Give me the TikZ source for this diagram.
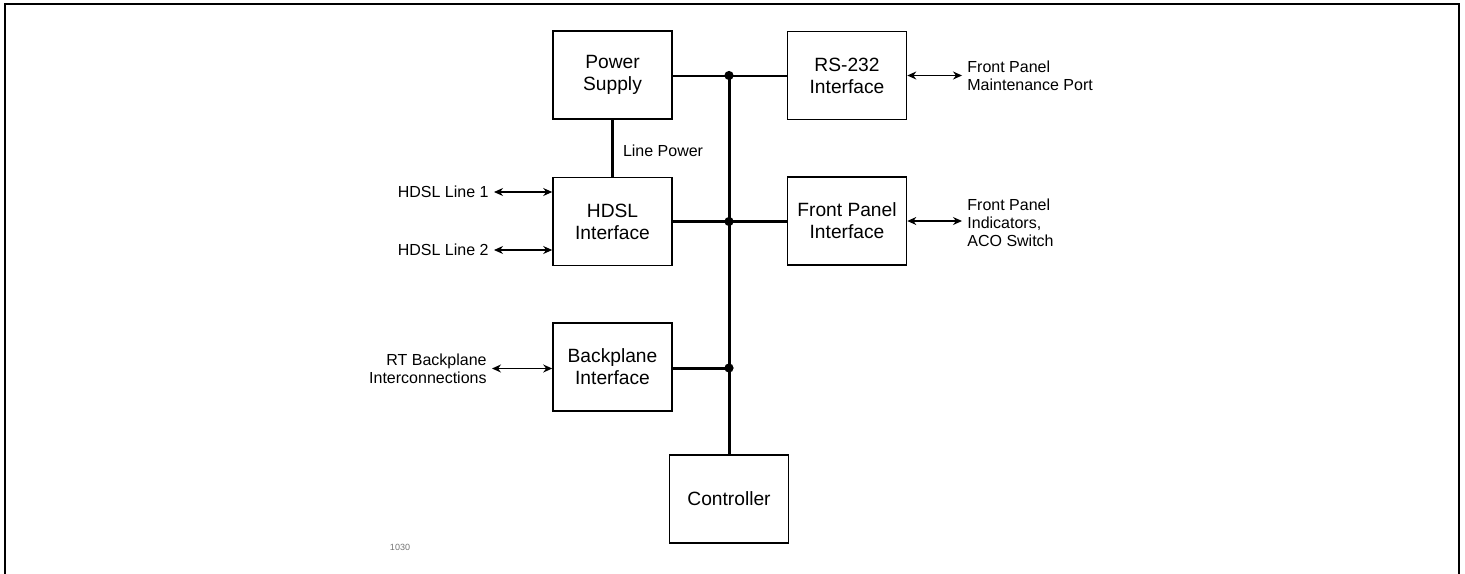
\documentclass[tikz,border=0pt]{standalone}
\usepackage{fontspec}
\setmainfont{Liberation Sans}
\usetikzlibrary{arrows.meta, positioning}

\begin{document}
\begin{tikzpicture}[
    x=0.5pt, y=-0.5pt,
    unitBox/.style={draw, line width=0.8pt, minimum width=59.5pt, minimum height=44pt, align=center, inner sep=1pt, font=\fontsize{9.6}{11}\selectfont}, % functional blocks
    sideLabel/.style={inner sep=2.5pt, font=\fontsize{8}{9}\selectfont}, % external signal texts
    busLine/.style={line width=1.5pt}, % internal bus
    ioArrow/.style={line width=0.6pt, {Stealth[length=4.5pt,width=4pt]}-{Stealth[length=4.5pt,width=4pt]}}, % external links
    junction/.style={circle, fill, inner sep=0pt, minimum size=4.6pt},
]
    % 1. frame and bounding box
    \useasboundingbox (0,0) rectangle (1465,573);
    \draw[line width=1.3pt] (5,590) -- (5,4) -- (1459,4) -- (1459,590);

    % 2. blocks
    \node[unitBox] (pwr)  at (612.5,75)  {Power\\Supply};
    \node[unitBox] (hdsl) at (612.5,221.5) {HDSL\\Interface};
    \node[unitBox] (bkp)  at (612.5,367) {Backplane\\Interface};
    \node[unitBox] (rs)   at (847,75.5)  {RS-232\\Interface};
    \node[unitBox] (fp)   at (847,221)   {Front Panel\\Interface};
    \node[unitBox] (ctrl) at (729,499)   {Controller};

    % 3. bus with junctions
    \coordinate (j1) at (729,75.5);
    \coordinate (j2) at (729,221.5);
    \coordinate (j3) at (729,368);
    \draw[line width=1pt] (pwr.east |- j1) -- (rs.west |- j1);
    \draw[busLine] (hdsl.east |- j2) -- (fp.west |- j2);
    \draw[busLine] (bkp.east |- j3) -- (j3);
    \draw[busLine] (j1) -- (j1 |- ctrl.north);
    \foreach \j in {j1, j2, j3} \node[junction] at (\j) {};

    % 4. line power feed
    \draw[busLine] (pwr.south) -- node[sideLabel, right=2pt, pos=0.55] (lp) {Line Power} (hdsl.north);

    % 5. external links
    \node[sideLabel, anchor=east] (ln1) at (494,192) {HDSL Line 1};
    \node[sideLabel, anchor=east] (ln2) at (494,250) {HDSL Line 2};
    \node[sideLabel, anchor=east, align=right] (rtb) at (492,368.5) {RT Backplane\\Interconnections};
    \node[sideLabel, anchor=west, align=left] (mport) at (962,76) {Front Panel\\Maintenance Port};
    \node[sideLabel, anchor=west, align=left] (ind) at (962,223) {Front Panel\\Indicators,\\ACO Switch};
    \draw[ioArrow] (ln1.east) -- (hdsl.west |- ln1.east);
    \draw[ioArrow] (ln2.east) -- (hdsl.west |- ln2.east);
    \draw[ioArrow] (rtb.east) -- (bkp.west |- rtb.east);
    \draw[ioArrow] (rs.east) -- (mport.west |- rs.east);
    \draw[ioArrow] (fp.east) -- (ind.west |- fp.east);

    % 6. figure number
    \node[text=black!55, font=\fontsize{4.5}{5}\selectfont] (fig) at (400,547) {1030};
\end{tikzpicture}
\end{document}
